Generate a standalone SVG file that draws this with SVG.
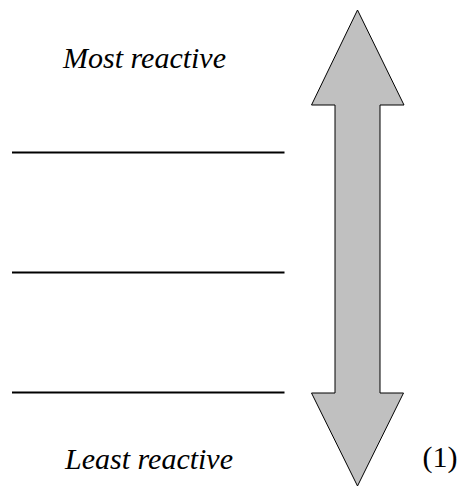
<svg xmlns="http://www.w3.org/2000/svg" width="460" height="486" viewBox="0 0 460 486">
  <style>
    text { font-family: 'Liberation Serif', 'Times New Roman', Times, serif; font-size: 30px; fill: #000; }
    .it { font-style: italic; }
    .blank { stroke: #000; stroke-width: 2; }
    .arrow { fill: #c0c0c0; stroke: #000; stroke-width: 1; stroke-linejoin: miter; }
  </style>
  <rect width="460" height="486" fill="#fff"/>

  <!-- double-headed reactivity scale -->
  <g id="scale-arrow">
    <polygon class="arrow" points="357.5,10 404,105 380,105 380,393 403.5,393 357.5,486 311.5,393 335,393 335,105 311.5,105"/>
  </g>

  <g id="top-label">
    <text class="it" x="63" y="68" font-size="30.5">Most reactive</text>
  </g>

  <!-- answer blanks -->
  <g id="blanks">
    <line class="blank" x1="12" y1="152.5" x2="284.5" y2="152.5"/>
    <line class="blank" x1="12" y1="272.5" x2="284.5" y2="272.5"/>
    <line class="blank" x1="12" y1="392.5" x2="284.5" y2="392.5"/>
  </g>

  <g id="bottom-label">
    <text class="it" x="65" y="469" font-size="30.5">Least reactive</text>
  </g>

  <g id="mark">
    <text x="422.5" y="467">(1)</text>
  </g>
</svg>
